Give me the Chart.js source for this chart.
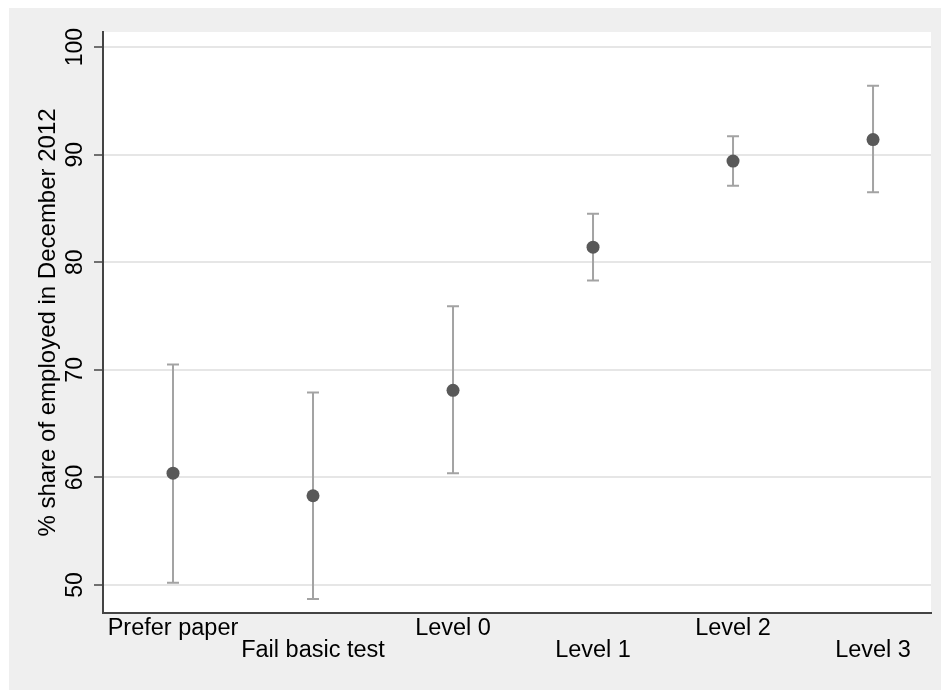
<!DOCTYPE html>
<html>
<head>
<meta charset="utf-8">
<script src="https://cdn.jsdelivr.net/npm/chart.js@4"></script>
<style>
  html, body { margin: 0; padding: 0; background: #fff; }
  #chart { display: block; }
</style>
</head>
<body>
<canvas id="chart" width="941" height="691"></canvas>
<script>
// ---- data ----
const categories = ['Prefer paper', 'Fail basic test', 'Level 0', 'Level 1', 'Level 2', 'Level 3'];
const shareMean = [60.4, 58.3, 68.1, 81.4, 89.4, 91.4];
const ciLower = [50.2, 48.7, 60.4, 78.3, 87.1, 86.5];
const ciUpper = [70.5, 67.9, 75.9, 84.5, 91.7, 96.4];
const yTicks = [50, 60, 70, 80, 90, 100];
const yTitle = '% share of employed in December 2012';

const FONT = '"Liberation Sans", Arial, sans-serif';

// Stata-ish background: grey frame, white plot region
const backdrop = {
    id: 'backdrop',
    beforeDraw(chart) {
        const { ctx, chartArea: a } = chart;
        ctx.save();
        ctx.fillStyle = '#ffffff';
        ctx.fillRect(0, 0, chart.width, chart.height);
        ctx.fillStyle = '#efefef';
        ctx.fillRect(9, 8, chart.width - 9, chart.height - 9);
        ctx.fillStyle = '#ffffff';
        ctx.fillRect(a.left, a.top, a.right - a.left, a.bottom - a.top);
        ctx.restore();
    },
};

// capped error bars from the CI arrays
const errorBars = {
    id: 'errorBars',
    beforeDatasetsDraw(chart) {
        const { ctx, scales: { x, y } } = chart;
        ctx.save();
        ctx.strokeStyle = '#a3a3a3';
        ctx.lineWidth = 2;
        categories.forEach((_, i) => {
            const px = x.getPixelForValue(i + 1);
            const top = y.getPixelForValue(ciUpper[i]);
            const bot = y.getPixelForValue(ciLower[i]);
            ctx.beginPath();
            ctx.moveTo(px, top); ctx.lineTo(px, bot);
            ctx.moveTo(px - 6, top); ctx.lineTo(px + 6, top);
            ctx.moveTo(px - 6, bot); ctx.lineTo(px + 6, bot);
            ctx.stroke();
        });
        ctx.restore();
    },
};

// rotated y tick labels + y title (Stata style, reading upward)
const yLabels = {
    id: 'yLabels',
    afterDraw(chart) {
        const { ctx, chartArea: a, scales: { y } } = chart;
        ctx.save();
        ctx.fillStyle = '#000';
        ctx.textAlign = 'center';
        ctx.textBaseline = 'alphabetic';
        ctx.font = '23px ' + FONT;
        y.ticks.forEach(t => {
            ctx.save();
            ctx.translate(82, y.getPixelForValue(t.value));
            ctx.rotate(-Math.PI / 2);
            ctx.fillText(String(t.value), 0, 0);
            ctx.restore();
        });
        ctx.font = '24px ' + FONT;
        ctx.translate(55, (a.top + a.bottom) / 2);
        ctx.rotate(-Math.PI / 2);
        ctx.fillText(yTitle, 0, 0);
        ctx.restore();
    },
};

new Chart(document.getElementById('chart').getContext('2d'), {
    type: 'scatter',
    data: {
        datasets: [{
            label: 'share employed',
            data: shareMean.map((v, i) => ({ x: i + 1, y: v })),
            backgroundColor: '#595959',
            borderColor: '#595959',
            borderWidth: 0,
            pointRadius: 6.5,
            pointHoverRadius: 6.5,
        }],
    },
    options: {
        responsive: false,
        animation: false,
        events: [],
        layout: { padding: { left: 9, top: 32, right: 10, bottom: 0 } },
        plugins: {
            legend: { display: false },
            tooltip: { enabled: false },
        },
        scales: {
            x: {
                type: 'linear',
                min: 0.5,
                max: 6.414,
                afterBuildTicks: s => { s.ticks = categories.map((_, i) => ({ value: i + 1 })); },
                afterFit: s => { s.height = 78; },
                grid: { display: false, drawTicks: false },
                border: { display: true, color: '#444444', width: 2 },
                ticks: {
                    autoSkip: false,
                    minRotation: 0,
                    maxRotation: 0,
                    padding: 4,
                    color: '#000',
                    font: { family: FONT, size: 23.5, lineHeight: 0.94 },
                    callback: v => {
                        const lbl = categories[Math.round(v) - 1];
                        return Math.round(v) % 2 === 1 ? [lbl] : ['', lbl];
                    },
                },
            },
            y: {
                min: 47.4,
                max: 101.4,
                afterBuildTicks: s => { s.ticks = yTicks.map(v => ({ value: v })); },
                afterFit: s => { s.width = 94; },
                grid: {
                    color: '#e6e6e6',
                    lineWidth: 2,
                    drawTicks: true,
                    tickLength: 9,
                    tickColor: '#444444',
                    tickWidth: 1.5,
                },
                border: { display: true, color: '#444444', width: 2 },
                ticks: { display: false },
            },
        },
    },
    plugins: [backdrop, errorBars, yLabels],
});
</script>
</body>
</html>
